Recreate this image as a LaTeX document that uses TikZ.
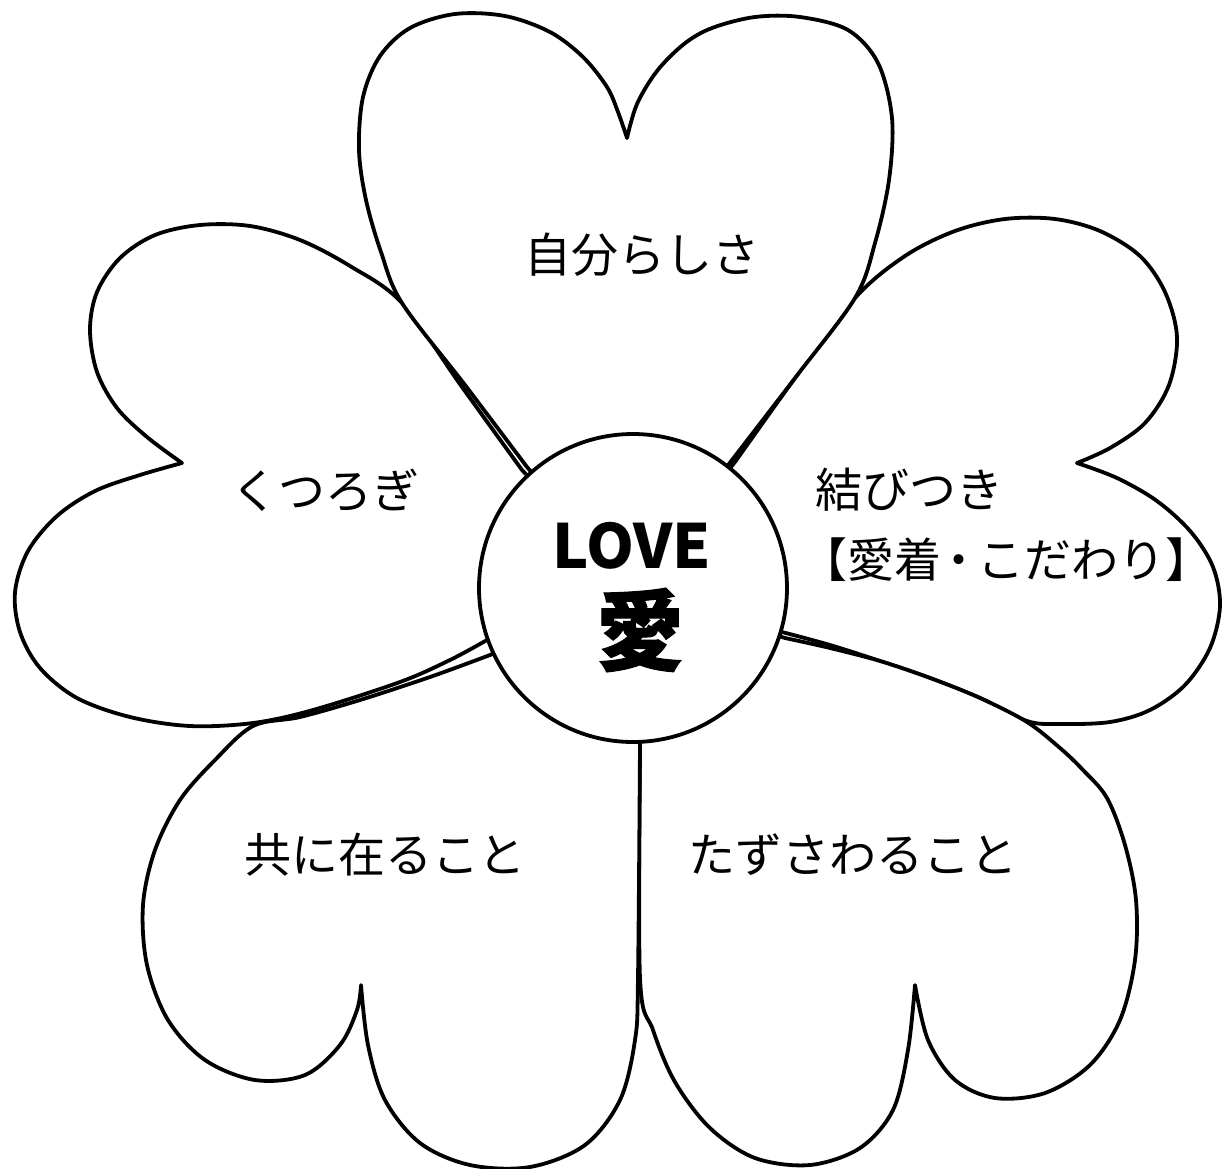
\documentclass[tikz,border=0pt]{standalone}
\usepackage{fontspec}
\newfontfamily\cjk{Noto Sans CJK JP}
\newfontfamily\cjkheavy[BoldFeatures={FakeBold=1.2}]{Noto Sans CJK JP}
\begin{document}
\begin{tikzpicture}[x=0.5pt,y=-0.5pt,
  petal/.style={draw=black, fill=white, line width=1.9pt, line join=round},
  lbl/.style={font=\cjk\fontsize{23.5pt}{30pt}\selectfont, inner sep=0pt},
  sm/.style={smooth, tension=0.55}]
\fill[white] (0,0) rectangle (1223,1169);
\useasboundingbox (0,0) rectangle (1223,1169);
\coordinate (ctr) at (633,588);

% right petal
\filldraw[petal] (ctr)
  -- plot[sm] coordinates {(735,462) (795,378) (855,298) (905,256) (955,231) (1005,219) (1055,219) (1100,231) (1140,256) (1165,292) (1177,337) (1169,385) (1145,423) (1110,448) (1077,463)}
  -- plot[sm] coordinates {(1077,463) (1117,478) (1157,501) (1191,532) (1213,567) (1220,606) (1210,648) (1185,685) (1150,710) (1110,722) (1060,724) (1027,721) (980,698) (930,678) (880,661) (830,645) (782,632)}
  -- cycle;

% lower right petal
\filldraw[petal] (ctr)
  -- plot[sm] coordinates {(785,638) (830,648) (880,661) (930,678) (980,698) (1027,722) (1060,748) (1083,770) (1107,798) (1125,845) (1136,900) (1135,960) (1120,1020) (1090,1065) (1045,1093) (995,1098) (955,1080) (928,1040) (915,985)}
  -- plot[sm] coordinates {(915,985) (908,1050) (893,1110) (860,1148) (810,1165) (755,1158) (710,1128) (675,1082) (653,1030) (640,978) (640,745)}
  -- cycle;

% lower left petal
\filldraw[petal] (ctr)
  -- plot[sm] coordinates {(490,655) (430,677) (360,700) (300,717) (253,726) (215,760) (180,800) (155,850) (143,905) (147,965) (168,1020) (205,1060) (255,1080) (305,1075) (340,1045) (357,1010) (361,985)}
  -- plot[sm] coordinates {(361,985) (368,1045) (385,1100) (420,1143) (470,1165) (530,1167) (585,1145) (620,1100) (635,1040) (638,978) (640,745)}
  -- cycle;

% left petal
\filldraw[petal] (ctr)
  -- plot[sm] coordinates {(522,470) (462,387) (402,303) (350,266) (300,240) (250,226) (200,225) (155,235) (120,258) (97,292) (90,330) (97,372) (117,408) (147,437) (182,463)}
  -- plot[sm] coordinates {(182,463) (140,475) (95,491) (57,516) (28,551) (15,592) (20,632) (40,668) (77,698) (130,717) (190,726) (253,723) (313,710) (400,682) (450,660) (487,640)}
  -- cycle;

% top petal
\filldraw[petal] (ctr)
  -- plot[sm] coordinates {(527,467) (465,385) (402,303) (381,252) (366,200) (359,150) (363,97) (380,56) (410,28) (455,14) (505,16) (550,32) (583,57) (607,87) (618,112) (627,138)}
  -- plot[sm] coordinates {(627,138) (637,104) (657,71) (684,44) (712,28) (755,17) (800,17) (848,30) (878,63) (892,118) (889,180) (875,243) (855,298) (795,378) (732,460)}
  -- cycle;

% centre disc
\node[circle, draw=black, fill=white, line width=1.9pt, minimum size=154pt, inner sep=0pt] (core) at (ctr) {};

% petal labels
\node[lbl] (self) at (642,255) {自分らしさ};
\node[lbl] (rest) at (325,490) {くつろぎ};
\node[lbl, anchor=west] (bond) at (815,490) {結びつき};
\node[lbl, anchor=west] (attach) at (800,560) {【愛着\kern-.12em・\kern-.12em こだわり】};
\node[lbl] (together) at (385,855) {共に在ること};
\node[lbl] (engage) at (853,855) {たずさわること};

% centre labels
\node[font=\cjk\bfseries\fontsize{30.5pt}{36pt}\selectfont, inner sep=0pt] (love) at (632,546) {LOVE};
\node[font=\cjkheavy\bfseries\fontsize{44pt}{50pt}\selectfont, inner sep=0pt] (ai) at (640,630) {愛};
\end{tikzpicture}
\end{document}
